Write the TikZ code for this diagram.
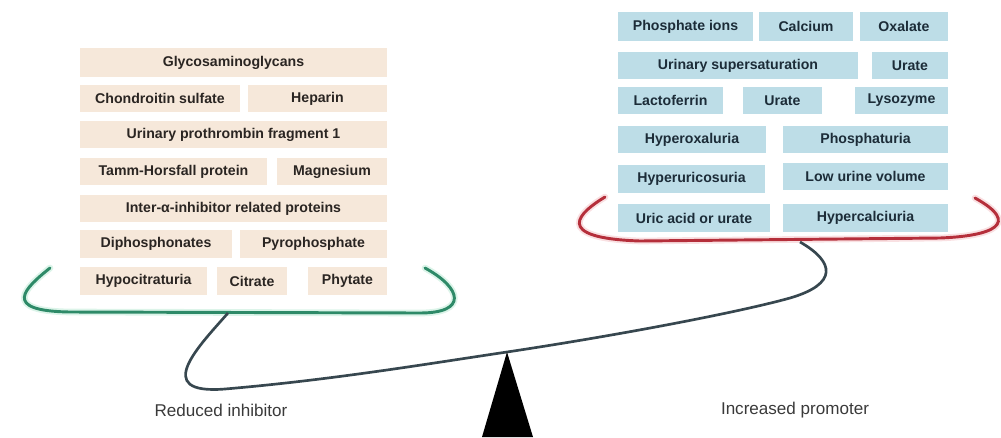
\documentclass[tikz,border=0pt]{standalone}
\usepackage{fontspec}
\setmainfont{Liberation Sans}
\definecolor{beige}{HTML}{F6E8DA}
\definecolor{lblue}{HTML}{BDDDE7}
\definecolor{ltext}{HTML}{2A2522}
\definecolor{rtext}{HTML}{1C2C38}
\definecolor{gbr}{HTML}{2E8A68}
\definecolor{gglow}{HTML}{CDEFE0}
\definecolor{rbr}{HTML}{B52F3B}
\definecolor{rglow}{HTML}{F7D3D5}
\definecolor{beam}{HTML}{37474F}
\definecolor{lab}{HTML}{3A3A3A}
\newcommand{\bx}[7]{\node[#1, minimum width={(#4-#2)*0.75pt}, minimum height={(#5-#3)*0.75pt}] (#6) at ({(#2+#4)/2},{(#3+#5)/2}) {#7};}
\tikzset{
  lbox/.style={fill=beige, inner sep=0pt, text=ltext, font=\bfseries\fontsize{10.6}{12}\selectfont},
  rbox/.style={fill=lblue, inner sep=0pt, text=rtext, font=\bfseries\fontsize{10.6}{12}\selectfont},
  brk/.style={line width=2.2pt, line cap=round},
  lbl/.style={text=lab, font=\fontsize{12.8}{15}\selectfont}
}
\begin{document}
\begin{tikzpicture}[x=0.75pt,y=-0.75pt]
\useasboundingbox (0,0) rectangle (1001,437);
\clip (0,0) rectangle (1001,437);
% left boxes
\bx{lbox}{80}{48}{387}{77}{l1}{Glycosaminoglycans}
\bx{lbox}{80}{85}{240}{112}{l2}{Chondroitin sulfate}
\bx{lbox}{248}{85}{387}{112}{l3}{Heparin}
\bx{lbox}{80}{121}{387}{148}{l4}{Urinary prothrombin fragment 1}
\bx{lbox}{80}{158}{267}{185}{l5}{Tamm-Horsfall protein}
\bx{lbox}{277}{158}{387}{185}{l6}{Magnesium}
\bx{lbox}{80}{195}{387}{222}{l7}{Inter-α-inhibitor related proteins}
\bx{lbox}{80}{230}{232}{258}{l8}{Diphosphonates}
\bx{lbox}{240}{230}{387}{258}{l9}{Pyrophosphate}
\bx{lbox}{80}{267}{207}{295}{l10}{Hypocitraturia}
\bx{lbox}{217}{267}{287}{295}{l11}{Citrate}
\bx{lbox}{308}{267}{387}{295}{l12}{Phytate}
% right boxes
\bx{rbox}{618}{12}{753}{41}{r1}{Phosphate ions}
\bx{rbox}{759}{12}{853}{41}{r2}{Calcium}
\bx{rbox}{860}{12}{948}{41}{r3}{Oxalate}
\bx{rbox}{618}{52}{858}{79}{r4}{Urinary supersaturation}
\bx{rbox}{872}{52}{948}{79}{r5}{Urate}
\bx{rbox}{618}{87}{723}{114}{r6}{Lactoferrin}
\bx{rbox}{743}{87}{822}{114}{r7}{Urate}
\bx{rbox}{855}{87}{948}{114}{r8}{Lysozyme}
\bx{rbox}{618}{126}{766}{153}{r9}{Hyperoxaluria}
\bx{rbox}{783}{126}{948}{153}{r10}{Phosphaturia}
\bx{rbox}{618}{165}{765}{193}{r11}{Hyperuricosuria}
\bx{rbox}{783}{163}{948}{190}{r12}{Low urine volume}
\bx{rbox}{618}{204}{770}{232}{r13}{Uric acid or urate}
\bx{rbox}{783}{204}{948}{232}{r14}{Hypercalciuria}
% brackets
\coordinate (gL) at (50,268);
\coordinate (gR) at (425,268);
\coordinate (gM) at (228,313);
\coordinate (rL) at (605,197);
\coordinate (rR) at (975,198);
\coordinate (rM) at (800,242);
\coordinate (pv) at (507,352);
\draw[brk, gglow, line width=5pt, opacity=0.7] (gL) .. controls (25,288) and (0,311) .. (70,312) -- (420,313) .. controls (468,313) and (462,288) .. (gR);
\draw[brk, gbr] (gL) .. controls (25,288) and (0,311) .. (70,312) -- (420,313) .. controls (468,313) and (462,288) .. (gR);
\draw[brk, rglow, line width=5pt, opacity=0.7] (rL) .. controls (580,212) and (550,238) .. (640,241) -- (940,238) .. controls (992,236) and (1022,224) .. (rR);
\draw[brk, rbr] (rL) .. controls (580,212) and (550,238) .. (640,241) -- (940,238) .. controls (992,236) and (1022,224) .. (rR);
% beam
\draw[beam, line width=2pt] (gM) .. controls (200,345) and (150,395) .. (225,389) .. controls (330,380) and (420,365) .. (pv) .. controls (620,335) and (740,312) .. (790,298) .. controls (838,284) and (835,262) .. (rM);
% fulcrum
\coordinate (b1) at (482,437);
\coordinate (b2) at (533,437);
\fill[black] (pv) -- (b2) -- (b1) -- cycle;
% labels
\node[lbl] (ri) at (221,410) {Reduced inhibitor};
\node[lbl] (ip) at (795,410) {Increased promoter};
\end{tikzpicture}
\end{document}
